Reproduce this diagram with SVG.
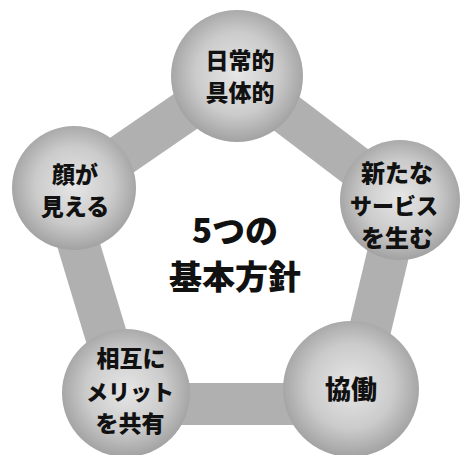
<svg xmlns="http://www.w3.org/2000/svg" width="461" height="455" viewBox="0 0 461 455">
  <defs>
    <radialGradient id="ball" cx="50%" cy="48%" r="52%">
      <stop offset="0" stop-color="#e6e6e6"/>
      <stop offset="0.6" stop-color="#cbcbcb"/>
      <stop offset="1" stop-color="#a2a2a2"/>
    </radialGradient>
    <style>
      .band { stroke: #b0b0b0; stroke-width: 42; stroke-linecap: butt; fill: none; }
      .node circle { fill: url(#ball); }
      .lbl { font-family: "Noto Sans CJK JP", "Noto Sans", sans-serif; font-weight: 900; fill: #111; text-anchor: middle; dominant-baseline: central; }
    </style>
  </defs>
  <rect width="461" height="455" fill="#ffffff"/>
  <g id="connectors">
    <line class="band" x1="237" y1="76" x2="74" y2="188"/>
    <line class="band" x1="237" y1="76" x2="400" y2="200"/>
    <line class="band" x1="62" y1="190" x2="124" y2="395"/>
    <line class="band" x1="401" y1="200" x2="356" y2="388"/>
    <line class="band" x1="126" y1="404" x2="351" y2="404"/>
  </g>
  <g id="node-top" class="node">
    <circle cx="237" cy="76" r="66"/>
    <text class="lbl" font-size="23"><tspan x="240" y="59">日常的</tspan><tspan x="240" y="91">具体的</tspan></text>
  </g>
  <g id="node-right" class="node">
    <circle cx="400" cy="200" r="60"/>
    <text class="lbl" font-size="24"><tspan x="397" y="171">新たな</tspan><tspan x="394" y="204" font-size="22">サービス</tspan><tspan x="397" y="236">を生む</tspan></text>
  </g>
  <g id="node-left" class="node">
    <circle cx="74" cy="188" r="62"/>
    <text class="lbl" font-size="23"><tspan x="75" y="173">顔が</tspan><tspan x="75" y="205">見える</tspan></text>
  </g>
  <g id="node-bottomleft" class="node">
    <circle cx="126" cy="393" r="64"/>
    <text class="lbl" font-size="23"><tspan x="131" y="357">相互に</tspan><tspan x="130" y="390" font-size="22">メリット</tspan><tspan x="130" y="422">を共有</tspan></text>
  </g>
  <g id="node-bottomright" class="node">
    <circle cx="351" cy="389" r="68"/>
    <text class="lbl" x="351" y="387" font-size="26">協働</text>
  </g>
  <g id="center-title">
    <text class="lbl" font-size="33"><tspan x="235" y="229">5つの</tspan><tspan x="235" y="275">基本方針</tspan></text>
  </g>
</svg>
